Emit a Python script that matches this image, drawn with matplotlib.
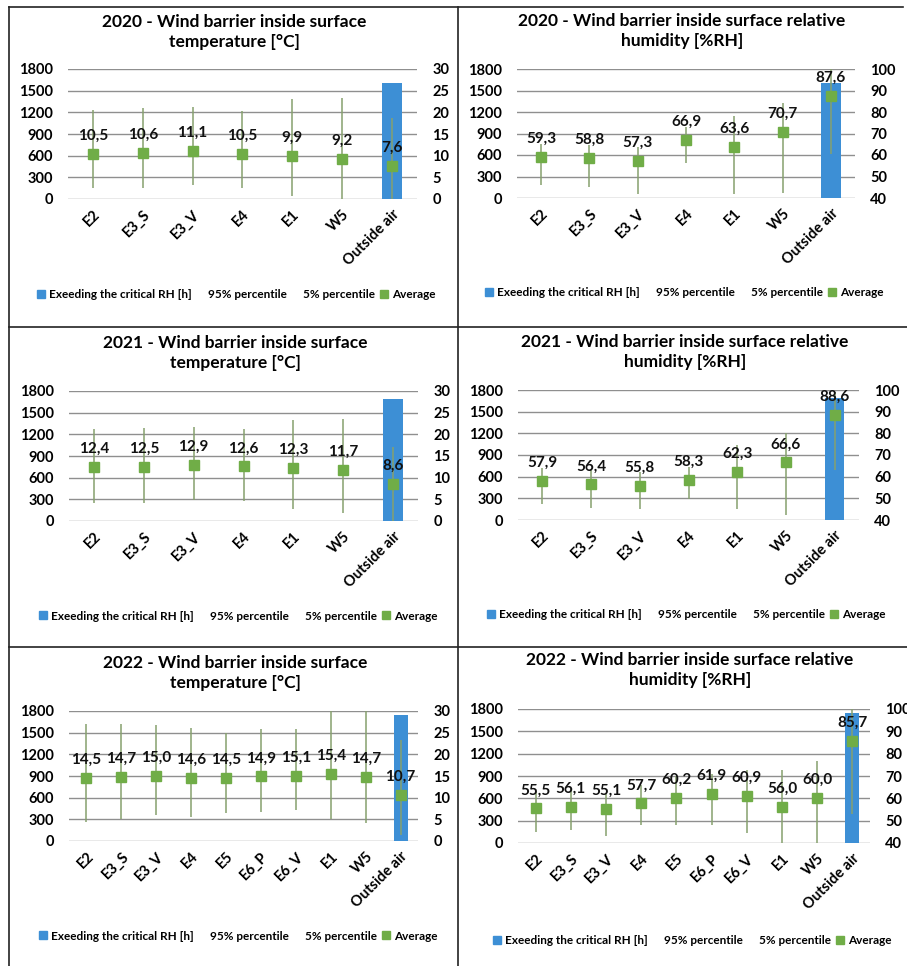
import numpy as np
import matplotlib.pyplot as plt
from matplotlib.lines import Line2D

plt.rcParams['font.family'] = ['Lato', 'DejaVu Sans']
plt.rcParams['font.weight'] = 'bold'

# categories
cats_2020 = ['E2', 'E3_S', 'E3_V', 'E4', 'E1', 'W5', 'Outside air']
cats_2021 = ['E2', 'E3_S', 'E3_V', 'E4', 'E1', 'W5', 'Outside air']
cats_2022 = ['E2', 'E3_S', 'E3_V', 'E4', 'E5', 'E6_P', 'E6_V', 'E1', 'W5', 'Outside air']

# hours exceeding the critical RH
hours_2020 = [0, 0, 0, 0, 0, 5, 1605]
hours_2021 = [0, 0, 0, 0, 0, 0, 1690]
hours_2022 = [0, 0, 0, 0, 0, 0, 0, 0, 0, 1750]

# temperature [°C]
t20_avg = [10.5, 10.6, 11.1, 10.5, 9.9, 9.2, 7.6]
t20_p95 = [20.6, 21.0, 21.2, 20.4, 23.1, 23.2, 18.8]
t20_p5 = [2.5, 2.5, 3.2, 2.5, 0.6, -0.5, -2.0]

t21_avg = [12.4, 12.5, 12.9, 12.6, 12.3, 11.7, 8.6]
t21_p95 = [21.2, 21.5, 21.6, 21.2, 23.3, 23.5, 17.0]
t21_p5 = [4.2, 4.2, 4.8, 4.5, 2.8, 1.8, -1.0]

t22_avg = [14.5, 14.7, 15.0, 14.6, 14.5, 14.9, 15.1, 15.4, 14.7, 10.7]
t22_p95 = [26.9, 26.9, 26.7, 26.1, 24.9, 25.9, 25.9, 30.5, 30.5, 23.3]
t22_p5 = [4.3, 5.1, 5.9, 5.6, 6.4, 6.8, 7.1, 5.1, 4.1, 1.4]

# relative humidity [%RH]
rh20_avg = [59.3, 58.8, 57.3, 66.9, 63.6, 70.7, 87.6]
rh20_p95 = [65.0, 64.5, 63.5, 73.0, 78.1, 84.0, 100.0]
rh20_p5 = [45.9, 45.1, 41.7, 56.3, 42.0, 42.5, 60.4]

rh21_avg = [57.9, 56.4, 55.8, 58.3, 62.3, 66.6, 88.6]
rh21_p95 = [64.0, 63.0, 62.0, 64.5, 74.6, 80.3, 99.0]
rh21_p5 = [47.2, 45.7, 44.9, 49.5, 45.2, 42.3, 63.0]

rh22_avg = [55.5, 56.1, 55.1, 57.7, 60.2, 61.9, 60.9, 56.0, 60.0, 85.7]
rh22_p95 = [63.0, 64.0, 62.0, 66.0, 70.0, 71.0, 72.7, 72.7, 76.7, 100.0]
rh22_p5 = [45.0, 46.0, 43.0, 48.2, 48.2, 48.0, 44.5, 39.0, 39.0, 53.2]

W, H = 907, 966
fig = plt.figure(figsize=(W / 100, H / 100), dpi=100)

BLUE = '#3d8fd5'
GREEN = '#70ad47'
ERR = '#86a06e'
GRID = '#8f8f8f'


def panel(rect, title, title_xy, legend_xy, cats, hours, avg, p95, p5, rlim, rstep):
    x0, x1, yt, yb = rect
    ax = fig.add_axes([x0 / W, 1 - yb / H, (x1 - x0) / W, (yb - yt) / H])
    x = np.arange(len(cats))
    ax.bar(x, hours, width=0.4, color=BLUE, zorder=2)
    ax.set_ylim(0, 1800)
    ax.set_yticks(np.arange(0, 1801, 300))
    ax.set_xlim(-0.5, len(cats) - 0.5)
    ax.set_xticks(x)
    ax.set_xticklabels(cats, rotation=45, ha='right', rotation_mode='anchor')
    ax.grid(axis='y', color=GRID, lw=1, zorder=0)
    ax.set_axisbelow(True)
    for s in ax.spines.values():
        s.set_visible(False)
    ax.tick_params(axis='y', length=0, pad=11, labelsize=10.5)
    ax.tick_params(axis='x', length=0, pad=6, labelsize=10.5)

    ax2 = ax.twinx()
    ax2.set_ylim(*rlim)
    ax2.set_yticks(np.arange(rlim[0], rlim[1] + 1, rstep))
    for s in ax2.spines.values():
        s.set_visible(False)
    ax2.tick_params(axis='y', length=0, pad=11, labelsize=10.5)
    ax2.vlines(x, p5, p95, color=ERR, lw=1.1, zorder=3)
    ax2.plot(x, avg, 's', color=GREEN, ms=7.5, zorder=4)
    for xi, v in zip(x, avg):
        ax2.annotate(f'{v:.1f}'.replace('.', ','), (xi, v), xytext=(0, 13),
                     textcoords='offset points', ha='center', va='center',
                     fontsize=11, color='#111111', zorder=5)

    fig.text(title_xy[0] / W, 1 - title_xy[1] / H, title, ha='center', va='center',
             fontsize=12.5, linespacing=1.25)

    handles = [Line2D([], [], ls='none', marker='s', color=BLUE, ms=6),
               Line2D([], [], color='none'),
               Line2D([], [], color='none'),
               Line2D([], [], ls='none', marker='s', color=GREEN, ms=6)]
    labels = ['Exeeding the critical RH [h]', '95% percentile', '5% percentile', 'Average']
    ax.legend(handles, labels, loc='center',
              bbox_to_anchor=(legend_xy[0] / W, 1 - legend_xy[1] / H),
              bbox_transform=fig.transFigure, ncol=4, frameon=False,
              fontsize=8.5, handlelength=0.7, handletextpad=0.3,
              columnspacing=0.4)
    return ax


t_title = ' - Wind barrier inside surface\ntemperature [°C]'
rh_title = ' - Wind barrier inside surface relative\nhumidity [%RH]'

panel((68, 417, 69, 199), '2020' + t_title, (234, 32), (236, 295),
      cats_2020, hours_2020, t20_avg, t20_p95, t20_p5, (0, 30), 5)
panel((517, 855, 69, 198), '2020' + rh_title, (682, 31), (684, 293),
      cats_2020, hours_2020, rh20_avg, rh20_p95, rh20_p5, (40, 100), 10)
panel((69, 418, 391, 521), '2021' + t_title, (235, 353), (238, 616),
      cats_2021, hours_2021, t21_avg, t21_p95, t21_p5, (0, 30), 5)
panel((518, 859, 390, 520), '2021' + rh_title, (685, 352), (686, 615),
      cats_2021, hours_2021, rh21_avg, rh21_p95, rh21_p5, (40, 100), 10)
panel((69, 418, 711, 841), '2022' + t_title, (235, 673), (238, 936),
      cats_2022, hours_2022, t22_avg, t22_p95, t22_p5, (0, 30), 5)
panel((518, 870, 709, 843), '2022' + rh_title, (690, 670), (692, 941),
      cats_2022, hours_2022, rh22_avg, rh22_p95, rh22_p5, (40, 100), 10)


# panel borders
def hline(y, xa, xb):
    fig.add_artist(Line2D([xa / W, xb / W], [1 - y / H, 1 - y / H], color='#222222', lw=1.2))


def vline(x, ya, yb):
    fig.add_artist(Line2D([x / W, x / W], [1 - ya / H, 1 - yb / H], color='#222222', lw=1.2))


hline(7, 9, 903)
hline(327, 9, 907)
hline(647, 9, 907)
vline(9, 7, 966)
vline(458, 7, 966)

fig.savefig('out.png', dpi=100)
